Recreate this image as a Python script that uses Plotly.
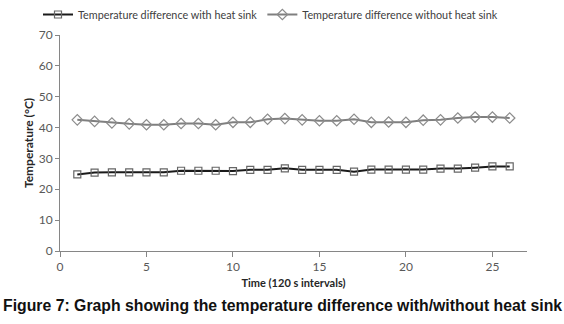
import plotly.graph_objects as go

time = list(range(1, 27))
with_sink = [24.8, 25.4, 25.5, 25.5, 25.5, 25.5, 26.0, 26.0, 26.0, 25.9, 26.3, 26.3, 26.8,
             26.3, 26.3, 26.3, 25.7, 26.4, 26.4, 26.4, 26.4, 26.7, 26.7, 27.0, 27.4, 27.4]
without_sink = [42.5, 42.0, 41.5, 41.2, 40.9, 40.9, 41.3, 41.3, 40.9, 41.7, 41.7, 42.7, 42.9,
                42.5, 42.2, 42.2, 42.7, 41.7, 41.8, 41.7, 42.4, 42.5, 43.1, 43.4, 43.4, 43.1]
x_ticks = [0, 5, 10, 15, 20, 25]
y_ticks = [0, 10, 20, 30, 40, 50, 60, 70]

FONT = "Lato, Open Sans, sans-serif"
tick_font = dict(family=FONT, size=12, color="#595959")

fig = go.Figure()
fig.add_trace(go.Scatter(
    x=time, y=with_sink, mode="lines+markers",
    name="Temperature difference with heat sink",
    line=dict(color="#1a1a1a", width=2),
    marker=dict(symbol="square-open", size=7, color="#666666", line=dict(width=1.2)),
))
fig.add_trace(go.Scatter(
    x=time, y=without_sink, mode="lines+markers",
    name="Temperature difference without heat sink",
    line=dict(color="#7f7f7f", width=2),
    marker=dict(symbol="diamond-open", size=8, color="#8c8c8c", line=dict(width=1.2)),
))

fig.update_layout(
    width=564, height=324,
    margin=dict(l=59.5, r=37, t=35, b=73, autoexpand=False),
    paper_bgcolor="white", plot_bgcolor="white",
    showlegend=True,
    legend=dict(orientation="h", x=38 / 564, y=1.0, xref="container", yref="container",
                xanchor="left", yanchor="top",
                font=dict(family=FONT, size=10.8, color="#404040"),
                itemwidth=30, tracegroupgap=0, bgcolor="rgba(0,0,0,0)"),
    xaxis=dict(range=[0, 27], tickvals=x_ticks, ticks="outside", ticklen=5,
               tickcolor="#868686", showline=True, linecolor="#868686", linewidth=1,
               showgrid=False, zeroline=False, tickfont=tick_font, automargin=False,
               title=dict(text="<b>Time (120 s intervals)</b>", standoff=5,
                          font=dict(family=FONT, size=11, color="#262626"))),
    yaxis=dict(range=[0, 70], tickvals=y_ticks, ticks="outside", ticklen=4,
               tickcolor="#868686", showline=True, linecolor="#868686", linewidth=1,
               showgrid=False, zeroline=False, tickfont=tick_font, automargin=False,
               title=dict(text="<b>Temperature (°C)</b>", standoff=2,
                          font=dict(family=FONT, size=12, color="#262626"))),
)
fig.add_annotation(
    text="<b>Figure 7: Graph showing the temperature difference with/without heat sink</b>",
    xref="paper", yref="paper", x=(282 - 59.5) / 467.5, y=0, yshift=-44,
    xanchor="center", yanchor="top", showarrow=False,
    font=dict(family="Liberation Sans, Arial, sans-serif", size=15.8, color="#111111"),
)
fig.write_html("out.html", config={"displayModeBar": False},
               post_script="document.body.style.margin='0';document.body.style.overflow='hidden';")
